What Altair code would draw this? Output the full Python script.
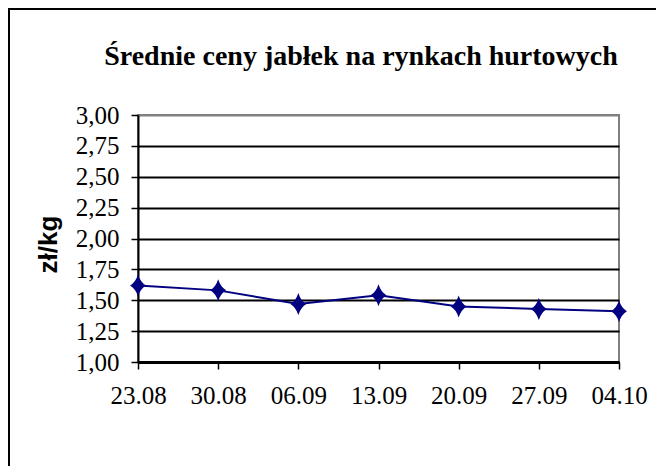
import altair as alt
import pandas as pd

dates = ["23.08", "30.08", "06.09", "13.09", "20.09", "27.09", "04.10"]
prices = [1.62, 1.58, 1.47, 1.54, 1.45, 1.43, 1.41]
y_ticks = [1.00, 1.25, 1.50, 1.75, 2.00, 2.25, 2.50, 2.75, 3.00]
title_text = "Średnie ceny jabłek na rynkach hurtowych"
y_title = "zł/kg"

df = pd.DataFrame({"date": dates, "price": prices})

SERIF = "Liberation Serif"
SANS = "Liberation Sans"
NAVY = "#000080"

diamond = "M0,-1Q0.22,-0.3,0.72,0Q0.22,0.3,0,1Q-0.22,0.3,-0.72,0Q-0.22,-0.3,0,-1Z"

x_enc = alt.X(
    "date:N",
    sort=dates,
    scale=alt.Scale(type="point", padding=0),
    axis=alt.Axis(
        title=None,
        labelAngle=0,
        labelFont=SERIF,
        labelFontSize=25,
        labelColor="black",
        labelPadding=14,
        tickColor="black",
        tickSize=7,
        tickWidth=1.5,
        domainColor="black",
        domainWidth=3,
        grid=False,
    ),
)
y_enc = alt.Y(
    "price:Q",
    scale=alt.Scale(domain=[1, 3], nice=False, zero=False),
    axis=alt.Axis(
        title=y_title,
        values=y_ticks,
        labelExpr="replace(format(datum.value, '.2f'), '.', ',')",
        labelFont=SERIF,
        labelFontSize=25,
        labelColor="black",
        labelPadding=12,
        tickColor="black",
        tickSize=7,
        tickWidth=1.5,
        domainColor="black",
        domainWidth=2,
        grid=True,
        gridColor=alt.condition("datum.value == 3", alt.value("#808080"), alt.value("black")),
        gridWidth=2,
        titleFont=SANS,
        titleFontSize=26,
        titleFontWeight="bold",
        titleColor="black",
        titleAngle=270,
        titleAlign="center",
        titleBaseline="alphabetic",
        titleX=-82,
        titleY=129,
    ),
)

line = alt.Chart(df).mark_line(color=NAVY, strokeWidth=2).encode(x=x_enc, y=y_enc)
points = alt.Chart(df).mark_point(
    shape=diamond, filled=True, color=NAVY, opacity=1, size=484
).encode(x=x_enc, y=y_enc)

frame_data = alt.Data(values=[{"label": title_text}])
left_frame = alt.Chart(frame_data).mark_rule(color="black", strokeWidth=2).encode(
    x=alt.value(-129), y=alt.value(-107), y2=alt.value(351)
)
top_frame = alt.Chart(frame_data).mark_rule(color="black", strokeWidth=2).encode(
    y=alt.value(-106), x=alt.value(-130), x2=alt.value(518)
)
title_mark = alt.Chart(frame_data).mark_text(
    font=SERIF,
    fontSize=28,
    fontWeight="bold",
    color="black",
    align="center",
    baseline="alphabetic",
).encode(text="label:N", x=alt.value(223), y=alt.value(-50))

chart = (
    alt.layer(line, points, left_frame, top_frame, title_mark)
    .properties(
        width=481,
        height=247,
        autosize=alt.AutoSizeParams(type="none"),
        padding={"left": 130, "top": 107, "right": 37, "bottom": 104},
    )
    .configure(background="white")
    .configure_view(stroke="#808080", strokeWidth=2)
)

chart.save("out.html", embed_options={"renderer": "svg", "actions": False})
